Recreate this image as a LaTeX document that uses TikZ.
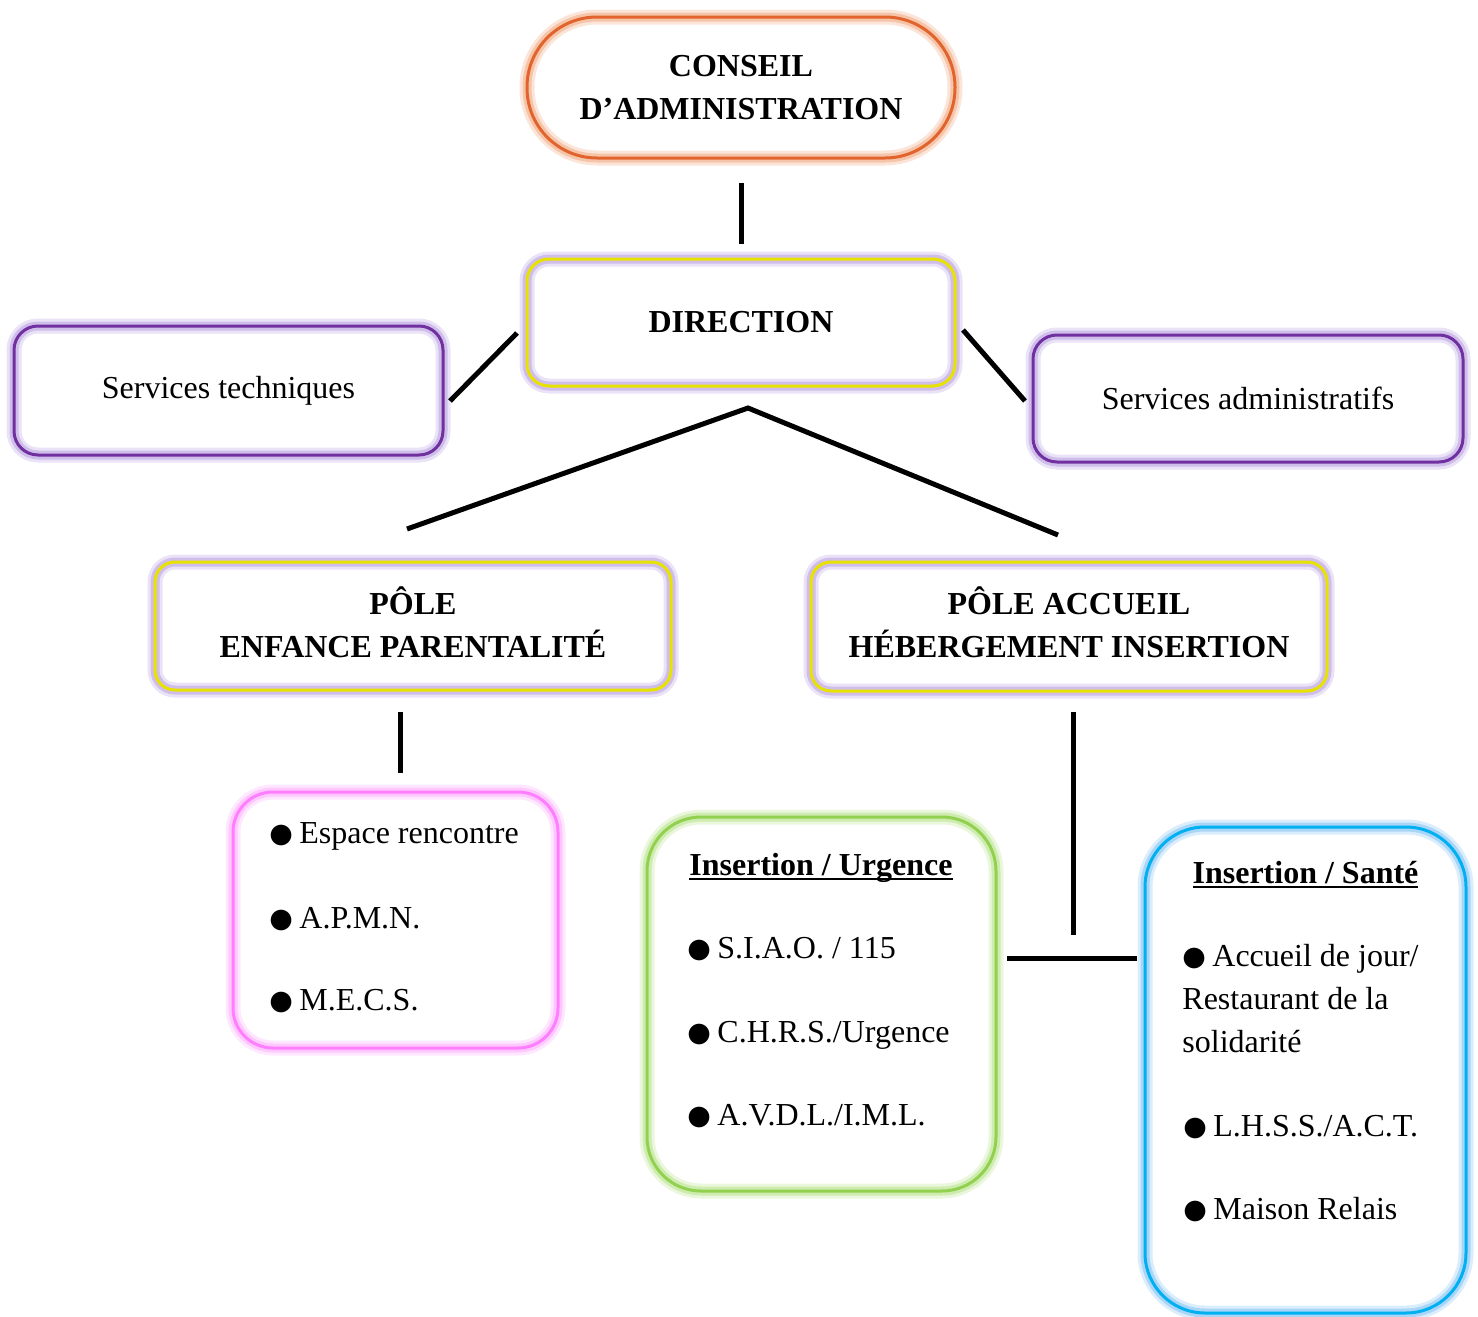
\documentclass[tikz,border=0pt]{standalone}
\usepackage{fontspec}
\setmainfont{Liberation Serif}
\newfontfamily\dejavu{DejaVu Sans}
\definecolor{cOr}{RGB}{226,100,45}
\definecolor{gOr}{RGB}{242,170,130}
\definecolor{cYe}{RGB}{232,226,0}
\definecolor{gLav}{RGB}{185,160,225}
\definecolor{cPu}{RGB}{112,48,160}
\definecolor{cPk}{RGB}{255,125,255}
\definecolor{gPk}{RGB}{255,175,255}
\definecolor{cGr}{RGB}{146,208,80}
\definecolor{gGr}{RGB}{185,228,140}
\definecolor{cBl}{RGB}{0,176,240}
\definecolor{gBl}{RGB}{130,195,245}
\newcommand\fs{\fontsize{16}{21.5}\selectfont}
\newcommand\ulbar[1]{\setbox0\hbox{#1}\rlap{\rule[-2.6pt]{\wd0}{1.2pt}}\box0}
\newcommand\bul{\makebox[15pt][l]{\raisebox{0.3pt}{\dejavu\fontsize{13.5}{14}\selectfont ●}}}
\tikzset{
  box/.style={draw=#1, line width=1.5pt, inner sep=0pt, align=center, font=\fs},
  glow/.style={preaction={draw=#1, line width=7.5pt, opacity=0.3},
               preaction={draw=#1, line width=4.5pt, opacity=0.55}},
  conn/.style={line width=2.5pt, black},
  item/.style={anchor=base west, inner sep=0pt, font=\fs, align=left},
  title/.style={anchor=base, inner sep=0pt, font=\fs\bfseries},
}
\begin{document}
\begin{tikzpicture}[x=0.5pt,y=-0.5pt]
\useasboundingbox (0,0) rectangle (1478,1317);
% boxes
\node[box=cOr, glow=gOr, rounded corners=35pt, minimum width=214pt, minimum height=70.5pt, font=\fs\bfseries]
  (conseil) at (741,87.5) {CONSEIL\\D’ADMINISTRATION};
\node[box=cYe, glow=gLav, rounded corners=11pt, minimum width=214pt, minimum height=63.5pt, font=\fs\bfseries]
  (direction) at (741,322.5) {DIRECTION};
\node[box=cPu, glow=gLav, rounded corners=12pt, minimum width=214.5pt, minimum height=64.5pt]
  (servtech) at (228.5,390.5) {Services techniques};
\node[box=cPu, glow=gLav, rounded corners=12pt, minimum width=215pt, minimum height=63.5pt]
  (servadm) at (1248,398.5) {Services administratifs};
\node[box=cYe, glow=gLav, rounded corners=10pt, minimum width=258pt, minimum height=64pt, font=\fs\bfseries, text depth=4pt]
  (poleenf) at (413,626) {PÔLE\\ENFANCE PARENTALITÉ};
\node[box=cYe, glow=gLav, rounded corners=10pt, minimum width=258pt, minimum height=64.5pt, font=\fs\bfseries, text depth=4pt]
  (poleacc) at (1069,626.5) {PÔLE ACCUEIL\\HÉBERGEMENT INSERTION};
\node[box=cPk, glow=gPk, rounded corners=20pt, minimum width=162.5pt, minimum height=128pt]
  (espace) at (395.5,920) {};
\node[box=cGr, glow=gGr, rounded corners=27pt, minimum width=174.5pt, minimum height=187pt]
  (urgence) at (821.5,1004) {};
\node[box=cBl, glow=gBl, rounded corners=30pt, minimum width=160.5pt, minimum height=243pt]
  (sante) at (1305.5,1070) {};
% list texts
\node[item] (e1) at (269,843) {\bul Espace rencontre};
\node[item] (e2) at (269,928) {\bul A.P.M.N.};
\node[item] (e3) at (269,1010) {\bul M.E.C.S.};
\node[title] (ut) at (821,875) {\ulbar{Insertion / Urgence}};
\node[item] (u1) at (687,958) {\bul S.I.A.O. / 115};
\node[item] (u2) at (687,1042) {\bul C.H.R.S./Urgence};
\node[item] (u3) at (687,1125) {\bul A.V.D.L./I.M.L.};
\node[title] (st) at (1305.5,883) {\ulbar{Insertion / Santé}};
\node[item] (s1) at (1182,1052) {\bul Accueil de jour/\\Restaurant de la\\solidarité};
\node[item] (s2) at (1183,1136) {\bul L.H.S.S./A.C.T.};
\node[item] (s3) at (1183,1219) {\bul Maison Relais};
% connector ends
\coordinate (c1) at (741,183);
\coordinate (c2) at (741,244);
\coordinate (d1) at (517,333);
\coordinate (t1) at (450,401);
\coordinate (d2) at (963,330);
\coordinate (a1) at (1025,401);
\coordinate (fork) at (748,408);
\coordinate (pe) at (407,529);
\coordinate (pa) at (1058,535);
\coordinate (pe1) at (400,712);
\coordinate (pe2) at (400,773);
\coordinate (pa1) at (1073,712);
\coordinate (pa2) at (1073,935);
\coordinate (h1) at (1007,958);
\coordinate (h2) at (1137,958);
% connectors
\draw[conn] (c1) -- (c2);
\draw[conn] (d1) -- (t1);
\draw[conn] (d2) -- (a1);
\draw[conn] (pe) -- (fork) -- (pa);
\draw[conn] (pe1) -- (pe2);
\draw[conn] (pa1) -- (pa2);
\draw[conn] (h1) -- (h2);
\end{tikzpicture}
\end{document}
